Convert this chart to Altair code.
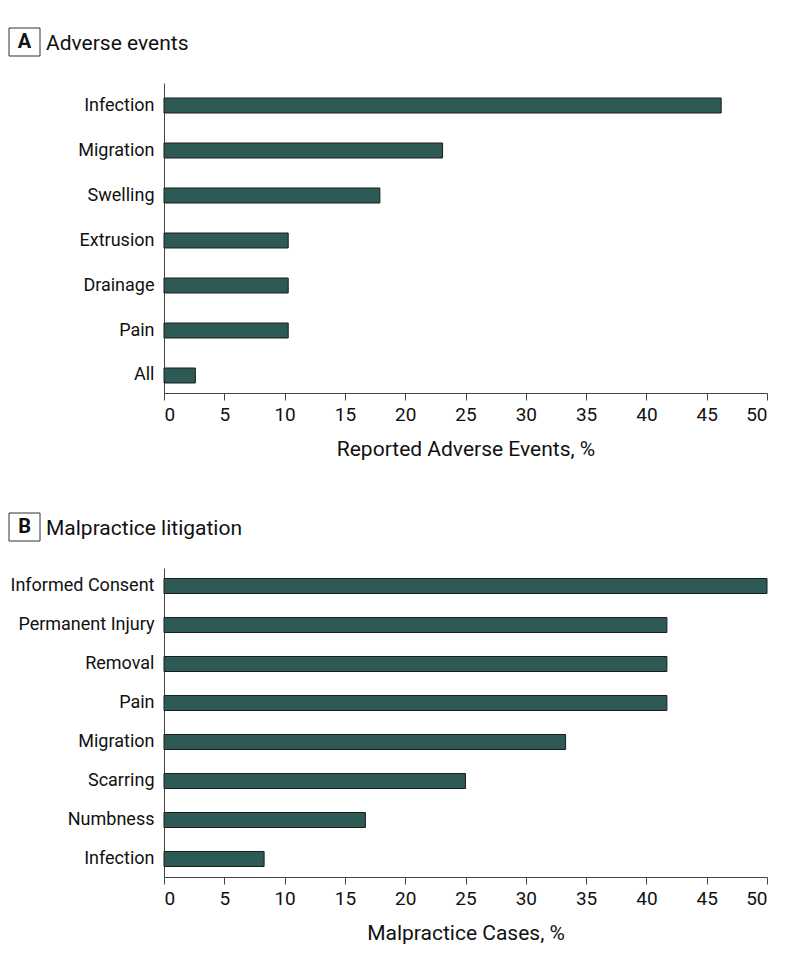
import altair as alt
import pandas as pd

# Panel A data
a_categories = ["Infection", "Migration", "Swelling", "Extrusion", "Drainage", "Pain", "All"]
a_values = [46.2, 23.1, 17.9, 10.3, 10.3, 10.3, 2.6]

# Panel B data
b_categories = ["Informed Consent", "Permanent Injury", "Removal", "Pain",
                "Migration", "Scarring", "Numbness", "Infection"]
b_values = [50.0, 41.7, 41.7, 41.7, 33.3, 25.0, 16.7, 8.3]

panel_letters = ["A", "B"]
panel_titles = ["Adverse events", "Malpractice litigation"]
x_titles = ["Reported Adverse Events, %", "Malpractice Cases, %"]
x_ticks = [0, 5, 10, 15, 20, 25, 30, 35, 40, 45, 50]

FONT = "Roboto, sans-serif"
BAR = "#2e5a56"


def panel(cats, vals, letter, title, xtitle, height, p_inner, p_outer, align):
    df = pd.DataFrame({"category": cats, "value": vals})
    bars = alt.Chart(df).mark_bar(color=BAR, stroke="#1c1c1c", strokeWidth=1).encode(
        x=alt.X("value:Q",
                scale=alt.Scale(domain=[0, 50], nice=False),
                axis=alt.Axis(values=x_ticks, title=xtitle, grid=False,
                              tickSize=7, labelPadding=5, titlePadding=14,
                              labelFontSize=19, titleFontSize=21,
                              domainColor="#444", tickColor="#444")),
        y=alt.Y("category:N", sort=cats,
                scale=alt.Scale(paddingInner=p_inner, paddingOuter=p_outer, align=align),
                axis=alt.Axis(title=None, ticks=False, labelPadding=10,
                              labelFontSize=18, domainColor="#444")),
    )
    hdr = pd.DataFrame({"letter": [letter], "title": [title]})
    box = alt.Chart(hdr).mark_rect(fill="white", stroke="#333", strokeWidth=1).encode(
        x=alt.value(-155), x2=alt.value(-124), y=alt.value(-55), y2=alt.value(-27))
    let = alt.Chart(hdr).mark_text(font=FONT, fontSize=20, fontWeight="bold",
                                   align="center", baseline="middle", color="#111").encode(
        text="letter:N", x=alt.value(-139.5), y=alt.value(-41))
    ttl = alt.Chart(hdr).mark_text(font=FONT, fontSize=21, align="left",
                                   baseline="middle", color="#111").encode(
        text="title:N", x=alt.value(-118), y=alt.value(-39))
    return alt.layer(bars, box, let, ttl).properties(width=603, height=height)


pa = panel(a_categories, a_values, panel_letters[0], panel_titles[0], x_titles[0],
           310, 0.667, 0.278, 0.6)
pb = panel(b_categories, b_values, panel_letters[1], panel_titles[1], x_titles[1],
           309, 0.615, 0.269, 0.5)

chart = alt.vconcat(pa, pb, spacing=53).properties(
    padding={"left": 0, "top": 19, "right": 5, "bottom": 5}
).configure_view(stroke=None).configure_axis(
    labelFont=FONT, labelColor="#111",
    titleFont=FONT, titleFontWeight="normal", titleColor="#111",
)

chart.save("out.html", embed_options={"renderer": "svg", "actions": False})
